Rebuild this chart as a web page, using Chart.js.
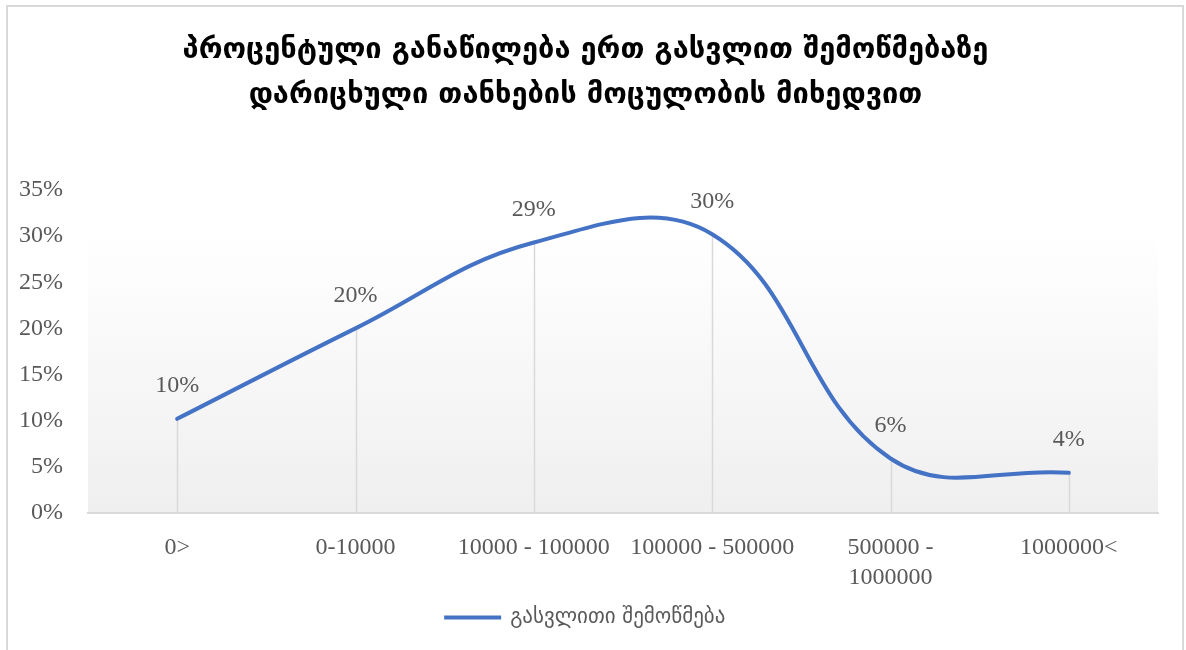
<!DOCTYPE html>
<html>
<head>
<meta charset="utf-8">
<script src="https://cdn.jsdelivr.net/npm/chart.js@4.4.1/dist/chart.umd.min.js"></script>
<style>
html,body{margin:0;padding:0;background:#fff;}
#wrap{position:absolute;left:0;top:0;width:1186px;height:650px;}
#frame{position:absolute;left:6px;top:5px;width:1178px;height:660px;border:2px solid #d9d9d9;box-sizing:border-box;}
canvas{position:absolute;left:0;top:0;}
</style>
</head>
<body>
<div id="wrap">
<div id="frame"></div>
<canvas id="c" width="1186" height="650"></canvas>
</div>
<script>
const titleLines = ["პროცენტული განაწილება ერთ გასვლით შემოწმებაზე", "დარიცხული თანხების მოცულობის მიხედვით"];
const categories = ["0>", "0-10000", "10000 - 100000", "100000 - 500000", ["500000 -", "1000000"], "1000000<"];
const seriesName = "გასვლითი შემოწმება";
const values = [0.102, 0.200, 0.293, 0.302, 0.059, 0.0435];
const valueLabels = ["10%", "20%", "29%", "30%", "6%", "4%"];
const yTicks = [0, 0.05, 0.10, 0.15, 0.20, 0.25, 0.30, 0.35];

const numFont = "'Liberation Serif', 'DejaVu Serif', serif";
const geoFont = "'DejaVu Sans', sans-serif";

const bgPlugin = {
  id: 'bgGrad',
  beforeDraw(chart) {
    const {ctx, chartArea, scales} = chart;
    const top = scales.y.getPixelForValue(0.302) - 2;
    const bottom = chartArea.bottom;
    const g = ctx.createLinearGradient(0, top, 0, bottom);
    g.addColorStop(0, '#ffffff');
    g.addColorStop(1, '#efefef');
    ctx.save();
    ctx.fillStyle = g;
    ctx.fillRect(chartArea.left, top, chartArea.right - chartArea.left, bottom - top);
    ctx.restore();
  }
};

const dropPlugin = {
  id: 'dropLines',
  beforeDatasetsDraw(chart) {
    const {ctx, scales} = chart;
    const meta = chart.getDatasetMeta(0);
    const base = scales.y.getPixelForValue(0);
    ctx.save();
    ctx.strokeStyle = '#d9d9d9';
    ctx.lineWidth = 1.5;
    meta.data.forEach(p => {
      ctx.beginPath();
      ctx.moveTo(Math.round(p.x) + 0.5, p.y);
      ctx.lineTo(Math.round(p.x) + 0.5, base);
      ctx.stroke();
    });
    ctx.restore();
  }
};

const labelPlugin = {
  id: 'valLabels',
  afterDatasetsDraw(chart) {
    const {ctx} = chart;
    const meta = chart.getDatasetMeta(0);
    ctx.save();
    ctx.fillStyle = '#595959';
    ctx.font = "24px " + numFont;
    ctx.textAlign = 'center';
    ctx.textBaseline = 'middle';
    meta.data.forEach((p, i) => {
      ctx.fillText(valueLabels[i], p.x, p.y - 33);
    });
    ctx.restore();
  }
};

new Chart(document.getElementById('c'), {
  type: 'line',
  data: {
    labels: categories,
    datasets: [{
      label: seriesName,
      data: values,
      borderColor: '#4472c4',
      backgroundColor: '#4472c4',
      borderWidth: 4,
      borderCapStyle: 'round',
      pointRadius: 0,
      pointHoverRadius: 0,
      tension: 0.4,
      fill: false
    }]
  },
  options: {
    responsive: false,
    animation: false,
    layout: {padding: {left: 13, right: 28, top: 10, bottom: 12}},
    plugins: {
      title: {
        display: true,
        text: titleLines,
        color: '#000',
        font: {family: geoFont, size: 29, weight: 'bold', lineHeight: 1.55},
        padding: {top: 18, bottom: 72}
      },
      legend: {
        position: 'bottom',
        labels: {
          color: '#595959',
          font: {family: geoFont, size: 21},
          boxWidth: 54,
          boxHeight: 1,
          padding: 6,
          generateLabels(chart) {
            const items = Chart.defaults.plugins.legend.labels.generateLabels(chart);
            items.forEach(it => { it.lineWidth = 3; it.lineCap = 'round'; });
            return items;
          }
        }
      },
      tooltip: {enabled: false}
    },
    scales: {
      x: {
        offset: true,
        grid: {display: false, drawTicks: false},
        border: {color: '#d9d9d9', width: 2},
        afterFit(axis) { axis.height = 88; },
        ticks: {
          color: '#595959',
          font: {family: numFont, size: 24, lineHeight: 1.25},
          padding: 20,
          maxRotation: 0,
          autoSkip: false
        }
      },
      y: {
        min: 0,
        max: 0.35,
        afterBuildTicks(axis) { axis.ticks = yTicks.map(v => ({value: v})); },
        afterFit(axis) { axis.width = 75; },
        grid: {display: false, drawTicks: false},
        border: {display: false},
        ticks: {
          color: '#595959',
          font: {family: numFont, size: 24},
          padding: 25,
          callback: v => Math.round(v * 100) + '%'
        }
      }
    }
  },
  plugins: [bgPlugin, dropPlugin, labelPlugin]
});
</script>
</body>
</html>
